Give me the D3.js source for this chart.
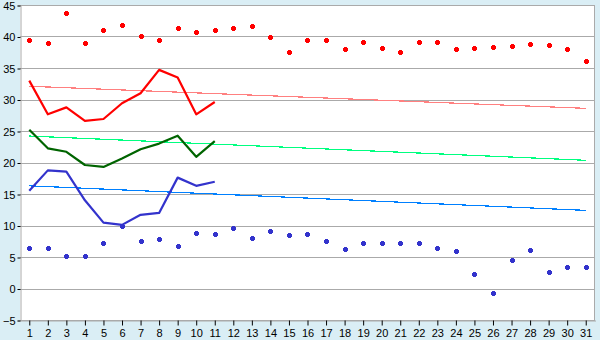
<!DOCTYPE html>
<html>
<head>
<meta charset="utf-8">
<script src="https://cdn.jsdelivr.net/npm/d3@7"></script>
<style>
  body { margin: 0; background: #daeef5; }
  svg { display: block; }
  .tick text { font-family: "Liberation Sans", Arial, sans-serif; font-size: 11px; fill: #000; }
</style>
</head>
<body>
<div id="chart"></div>
<script>
'use strict';

// data
let days = d3.range(1, 32);
let yTicks = [-5, 0, 5, 10, 15, 20, 25, 30, 35, 40, 45];

let highDots = [39.4, 39.0, 43.7, 39.0, 41.0, 41.8, 40.0, 39.4, 41.3, 40.7,
  41.0, 41.3, 41.6, 39.9, 37.6, 39.4, 39.5, 38.0, 39.1, 38.1,
  37.5, 39.1, 39.1, 38.0, 38.1, 38.3, 38.45, 38.75, 38.6, 38.0, 36.1];
let lowDots = [6.4, 6.5, 5.1, 5.1, 7.2, 10.0, 7.5, 7.8, 6.7, 8.75,
  8.6, 9.55, 7.95, 9.1, 8.45, 8.6, 7.5, 6.2, 7.2, 7.2,
  7.3, 7.3, 6.5, 5.9, 2.25, -0.75, 4.6, 6.05, 2.55, 3.35, 3.35];

let redLine = [33.0, 27.65, 28.75, 26.6, 26.9, 29.4, 31.0, 34.7, 33.5, 27.65, 29.6];
let greenLine = [25.2, 22.25, 21.7, 19.6, 19.3, 20.65, 22.1, 23.0, 24.25, 20.9, 23.4];
let blueLine = [15.5, 18.75, 18.55, 14.0, 10.45, 10.1, 11.7, 12.0, 17.6, 16.3, 16.95];

// trend lines: [value at day 1, value at day 31]
let redTrend = [32.1, 28.6];
let greenTrend = [24.2, 20.35];
let blueTrend = [16.3, 12.4];

let w = 600;
let h = 340;
let margin = {top: 5, right: 5, bottom: 20, left: 20};

let svg = d3.select('#chart').append('svg')
  .attr('width', w)
  .attr('height', h);

let x = d3.scaleBand()
  .domain(days)
  .range([margin.left, w - margin.right]);

let y = d3.scaleLinear()
  .domain([-5, 45])
  .range([h - margin.bottom, margin.top]);

let cx = d => x(d) + x.bandwidth() / 2;

// plot area
svg.append('rect')
  .attr('x', margin.left)
  .attr('y', margin.top)
  .attr('width', w - margin.left - margin.right)
  .attr('height', h - margin.top - margin.bottom)
  .attr('fill', '#fff');

// grid
svg.append('g')
  .selectAll('line')
  .data(yTicks)
  .enter()
  .append('line')
  .attr('x1', margin.left)
  .attr('x2', w - margin.right)
  .attr('y1', d => Math.round(y(d)) + 0.5)
  .attr('y2', d => Math.round(y(d)) + 0.5)
  .attr('stroke', '#aaa');

svg.append('line')
  .attr('x1', w - margin.right - 0.5)
  .attr('x2', w - margin.right - 0.5)
  .attr('y1', margin.top)
  .attr('y2', h - margin.bottom)
  .attr('stroke', '#aaa');

// axes
let yAxis = svg.append('g')
  .attr('transform', `translate(${margin.left + 0.5},0.5)`)
  .call(d3.axisLeft(y).tickValues(yTicks).tickSize(3).tickPadding(2));
yAxis.select('.domain').attr('stroke', '#aaa');
yAxis.selectAll('.tick line').attr('stroke', '#000');

let xAxis = svg.append('g')
  .attr('transform', `translate(0.5,${h - margin.bottom + 0.5})`)
  .call(d3.axisBottom(x).tickSize(5).tickPadding(4).tickSizeOuter(0));
xAxis.select('.domain').attr('stroke', '#aaa');
xAxis.selectAll('.tick line').attr('stroke', '#000');

// trend lines
let trends = [
  {v: redTrend, color: '#ff8080'},
  {v: greenTrend, color: '#00ff80'},
  {v: blueTrend, color: '#0080ff'}
];
svg.append('g')
  .selectAll('line')
  .data(trends)
  .enter()
  .append('line')
  .attr('x1', cx(1))
  .attr('x2', cx(31))
  .attr('y1', d => y(d.v[0]))
  .attr('y2', d => y(d.v[1]))
  .attr('stroke', d => d.color)
  .attr('stroke-width', 1.2)
  .attr('shape-rendering', 'crispEdges');

// daily lines
let line = d3.line()
  .x((d, i) => cx(days[i]))
  .y(d => y(d));

let series = [
  {v: redLine, color: '#ff0000'},
  {v: greenLine, color: '#006400'},
  {v: blueLine, color: '#3333cc'}
];
svg.append('g')
  .selectAll('path')
  .data(series)
  .enter()
  .append('path')
  .attr('d', d => line(d.v))
  .attr('fill', 'none')
  .attr('stroke', d => d.color)
  .attr('stroke-width', 2.2)
  .attr('stroke-linejoin', 'round');

// small plus markers
let plus = {
  draw(ctx, size) {
    let a = 2.5, b = 1.5;
    ctx.moveTo(-b, -a); ctx.lineTo(b, -a); ctx.lineTo(b, -b); ctx.lineTo(a, -b);
    ctx.lineTo(a, b); ctx.lineTo(b, b); ctx.lineTo(b, a); ctx.lineTo(-b, a);
    ctx.lineTo(-b, b); ctx.lineTo(-a, b); ctx.lineTo(-a, -b); ctx.lineTo(-b, -b);
    ctx.closePath();
  }
};
let marker = d3.symbol().type(plus);

let dotSets = [
  {v: highDots, color: '#ff0000'},
  {v: lowDots, color: '#3333cc'}
];
dotSets.forEach(s => {
  svg.append('g')
    .selectAll('path')
    .data(s.v)
    .enter()
    .append('path')
    .attr('d', marker)
    .attr('transform', (d, i) => `translate(${Math.round(cx(days[i])) + 0.5},${Math.round(y(d)) + 0.5})`)
    .attr('fill', s.color)
    .attr('shape-rendering', 'crispEdges');
});
</script>
</body>
</html>
